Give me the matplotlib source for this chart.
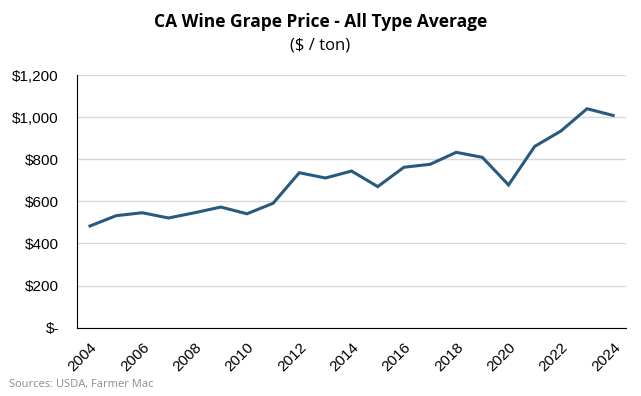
import matplotlib.pyplot as plt
from matplotlib.ticker import FuncFormatter

# Data
years = list(range(2004, 2025))
prices = [483, 532, 546, 521, 546, 573, 541, 591, 736, 711, 744,
          670, 762, 776, 833, 809, 678, 861, 934, 1040, 1008]

plt.rcParams['font.family'] = ['Open Sans', 'DejaVu Sans']

fig = plt.figure(figsize=(6.41, 3.96), dpi=100)
ax = fig.add_axes([0.120, 0.1725, 0.857, 0.638])

ax.plot(years, prices, color='#285a7d', linewidth=2.2, solid_joinstyle='miter')

ax.set_ylim(0, 1200)
ax.set_yticks(range(0, 1201, 200))
ax.yaxis.set_major_formatter(FuncFormatter(lambda v, p: '$-' if v == 0 else f'${v:,.0f}'))
ax.set_xlim(2003.5, 2024.5)
ax.set_xticks(years[::2])
ax.set_xticklabels([str(y) for y in years[::2]], rotation=45, ha='right',
                   rotation_mode='anchor')

ax.grid(axis='y', color='#d9d9d9', linewidth=1)
ax.set_axisbelow(True)
for s in ['top', 'right']:
    ax.spines[s].set_visible(False)
ax.spines['left'].set_color('black')
ax.spines['bottom'].set_color('black')
ax.tick_params(length=0, labelsize=11, colors='black')
ax.tick_params(axis='y', pad=13)
ax.tick_params(axis='x', pad=9)
for lbl in ax.get_xticklabels() + ax.get_yticklabels():
    lbl.set_fontfamily(['Liberation Sans', 'DejaVu Sans'])

fig.text(0.5, 0.945, 'CA Wine Grape Price - All Type Average', ha='center',
         va='center', fontsize=12.5, fontweight='bold')
fig.text(0.5, 0.885, '($ / ton)', ha='center', va='center', fontsize=12)
fig.text(0.014, 0.028, 'Sources: USDA, Farmer Mac', ha='left', va='center',
         fontsize=8, color='#8c8c8c')

fig.savefig('out.png', dpi=100)
